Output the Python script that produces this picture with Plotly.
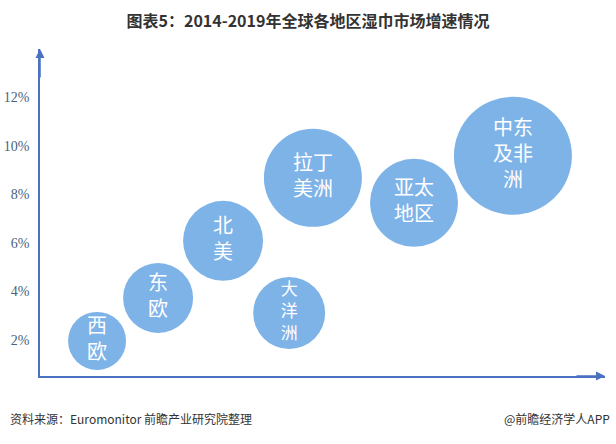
import plotly.graph_objects as go

regions = ["西欧", "东欧", "北美", "大洋洲", "拉丁美洲", "亚太地区", "中东及非洲"]
label_lines = ["西<br>欧", "东<br>欧", "北<br>美", "大<br>洋<br>洲", "拉丁<br>美洲", "亚太<br>地区", "中东<br>及非<br>洲"]
x_pos = [10.1, 20.9, 32.4, 44.1, 48.3, 66.2, 83.7]
growth = [1.95, 3.72, 6.08, 3.10, 8.68, 7.65, 9.59]
bubble_size = [58, 70, 80, 72, 98, 88, 118]
label_size = [20, 20, 20, 17, 20, 20, 20]
y_ticks = [2, 4, 6, 8, 10, 12]
y_tick_labels = [f"{v}%" for v in y_ticks]

title_text = "图表5：2014-2019年全球各地区湿巾市场增速情况"
source_text = "资料来源：Euromonitor 前瞻产业研究院整理"
brand_text = "@前瞻经济学人APP"

axis_color = "#4A72C0"
bubble_color = "#7EB3E8"

fig = go.Figure()
fig.add_trace(go.Scatter(
    x=x_pos, y=growth, mode="markers+text",
    text=label_lines, textposition="middle center",
    textfont=dict(family="Noto Sans CJK SC", size=label_size, color="white"),
    marker=dict(size=bubble_size, sizemode="diameter", color=bubble_color,
                opacity=1, line=dict(width=0)),
    hovertext=regions, hoverinfo="text",
    cliponaxis=False, showlegend=False,
))

fig.update_layout(
    width=616, height=444,
    margin=dict(l=40, r=11, t=49, b=68),
    paper_bgcolor="white", plot_bgcolor="white",
    title=dict(text=title_text, x=0.5, xanchor="center", y=1 - 21/444, yanchor="middle",
               font=dict(family="Noto Sans CJK SC", size=16, color="#333333", weight="bold")),
    xaxis=dict(range=[0, 100], showgrid=False, zeroline=False, showticklabels=False,
               showline=True, linecolor=axis_color, linewidth=1.5, fixedrange=True,
               automargin=False),
    yaxis=dict(range=[0.5, 14.0], showgrid=False, zeroline=False,
               tickvals=y_ticks, ticktext=y_tick_labels,
               ticks="outside", ticklen=6, tickcolor="rgba(0,0,0,0)",
               tickfont=dict(family="Liberation Serif", size=14, color="#4A5F7E"),
               showline=True, linecolor=axis_color, linewidth=1.5, fixedrange=True,
               automargin=False),
    annotations=[
        dict(xref="paper", yref="paper", x=0, y=1.0, ax=0, ay=30, axref="pixel", ayref="pixel",
             text="", showarrow=True, arrowhead=2, arrowsize=1.2, arrowwidth=1.5, arrowcolor=axis_color),
        dict(xref="paper", yref="paper", x=1.0, y=0, ax=-30, ay=0, axref="pixel", ayref="pixel",
             text="", showarrow=True, arrowhead=2, arrowsize=1.2, arrowwidth=1.5, arrowcolor=axis_color),
        dict(xref="paper", yref="paper", x=-32/565, y=-42/327, xanchor="left", yanchor="middle",
             text=source_text, showarrow=False,
             font=dict(family="Noto Sans CJK SC", size=12, color="#333333")),
        dict(xref="paper", yref="paper", x=1 + 7/565, y=-42/327, xanchor="right", yanchor="middle",
             text=brand_text, showarrow=False,
             font=dict(family="Noto Sans CJK SC", size=12, color="#333333")),
    ],
)

fig.write_html("out.html", config={"displayModeBar": False},
               post_script="document.body.style.margin='0';")
